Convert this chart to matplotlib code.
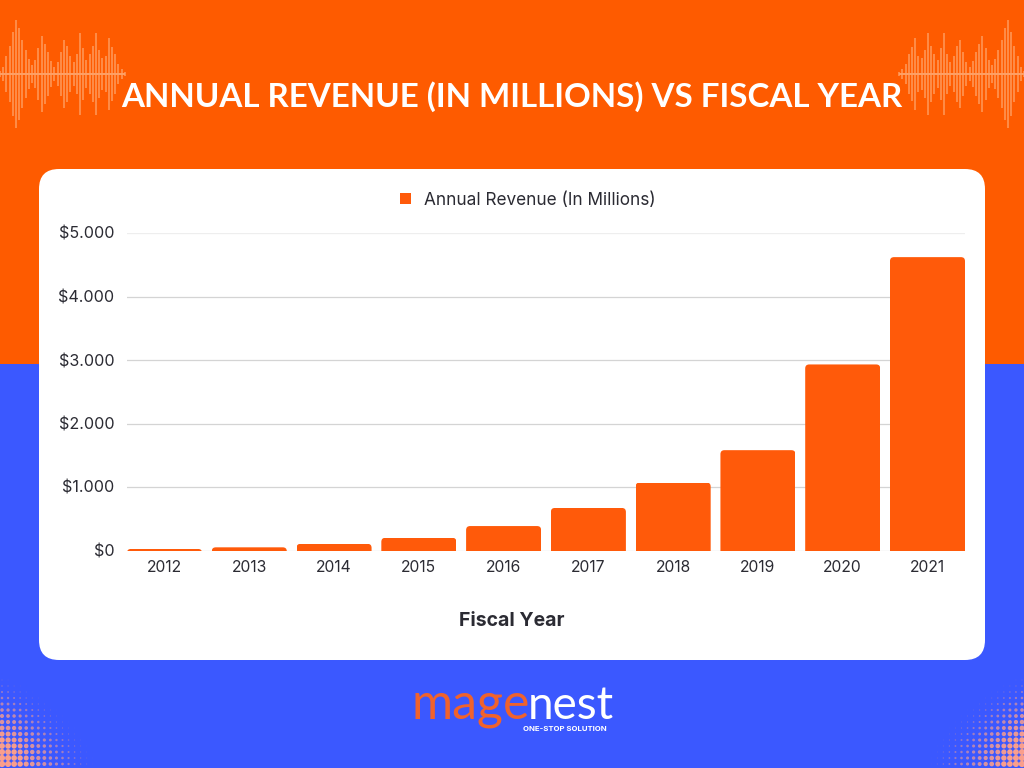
import numpy as np
import matplotlib
matplotlib.use("Agg")
import matplotlib.pyplot as plt
from matplotlib.patches import FancyBboxPatch, Rectangle
from matplotlib.transforms import IdentityTransform

years = ["2012","2013","2014","2015","2016","2017","2018","2019","2020","2021"]
revenue = [25, 50, 105, 200, 385, 670, 1070, 1580, 2930, 4620]
y_ticks = [0, 1000, 2000, 3000, 4000, 5000]
y_labels = ["$0", "$1.000", "$2.000", "$3.000", "$4.000", "$5.000"]
title = "ANNUAL REVENUE (IN MILLIONS) VS FISCAL YEAR"
series_name = "Annual Revenue (In Millions)"
x_title = "Fiscal Year"
# decorative waveform half-heights (px), left to right
wave = [3,7,18,28,42,54,46,34,24,15,9,14,26,38,30,22,13,7,12,22,34,28,18,12,
        20,41,26,14,20,28,41,24,16,18,36,27,20,10,5,2]

ORANGE = "#FE5B00"
BLUE = "#3B58FF"
BAR = "#FF5A0A"
TEXT = "#2B2B33"
W, H = 1024, 768
plt.rcParams["font.family"] = ["Inter", "DejaVu Sans"]

fig = plt.figure(figsize=(W/100, H/100), dpi=100)
bg = fig.add_axes([0, 0, 1, 1])
bg.set_xlim(0, W); bg.set_ylim(H, 0); bg.axis("off")
bg.add_patch(Rectangle((0, 0), W, 364, fc=ORANGE, ec="none"))
bg.add_patch(Rectangle((0, 364), W, H-364, fc=BLUE, ec="none"))

# waveforms
xs = np.arange(len(wave)) * 3.2
for mirror in (False, True):
    px = W - xs if mirror else xs
    bg.vlines(px, 74 - np.array(wave), 74 + np.array(wave), color="#FF9A5C", lw=1.1)
    bg.hlines(74, px.min(), px.max(), color="#FFA066", lw=1.4)

# halftone corners
gx, gy = np.meshgrid(np.arange(2, 100, 6.05), np.arange(674, 768, 6.0))
d = np.clip(1 - (gx/100)**1.2 - ((766-gy)/95)**1.6, 0, 1)
cols = np.zeros(gx.shape + (4,))
cols[..., :3] = np.array([0.98, 0.62, 0.55])
cols[..., 3] = np.clip(0.15 + d*1.0, 0, 1)
for mirror in (False, True):
    bg.scatter(W - gx.ravel() if mirror else gx.ravel(), gy.ravel(), s=(d.ravel()*5.5)**2*0.7,
               c=cols.reshape(-1, 4), linewidths=0)

# card
bg.add_patch(FancyBboxPatch((39, 169), 946, 491, boxstyle="round,pad=0,rounding_size=20",
                            fc="white", ec="none"))
bg.text(512, 107, title, color="white", fontsize=23.9, fontweight="bold", ha="center",
        va="baseline", family="Lato")

# logo
bg.text(471, 719, "mage", color="#F0622C", fontsize=36, ha="center", va="baseline", family="Lato")
bg.text(571, 719, "nest", color="white", fontsize=33, ha="center", va="baseline", family="Lato")
bg.text(565, 729, "ONE-STOP SOLUTION", color="white", fontsize=5.6, fontweight="bold",
        ha="center", va="center")

# chart
x0, x1, ytop, ybot = 127.0, 965.0, 233.0, 550.5
ax = fig.add_axes([x0/W, 1-ybot/H, (x1-x0)/W, (ybot-ytop)/H])
ax.patch.set_alpha(0)
pos = np.arange(len(years))
bars = ax.bar(pos, revenue, width=0.885, color=BAR, label=series_name, zorder=3)
ax.set_xlim(-0.4425, len(years)-1+0.4425)
ax.set_ylim(0, 5000)
ax.set_xticks(pos, years)
ax.set_yticks(y_ticks, y_labels)
ax.tick_params(length=0, labelcolor=TEXT)
ax.tick_params(axis="x", pad=7, labelsize=11.3)
ax.tick_params(axis="y", pad=9, labelsize=11.6)
ax.set_xlabel(x_title, fontsize=14, fontweight="bold", color=TEXT)
ax.xaxis.set_label_coords(0.4594, -0.195)
for s in ax.spines.values():
    s.set_visible(False)
ax.grid(axis="y", color="#D4D4D4", lw=0.9, zorder=0)
ax.get_ygridlines()[-1].set_color("#EEEEEE")
ax.set_axisbelow(True)

fig.canvas.draw()
for b in bars:
    (ax0, ay0), (ax1, ay1) = ax.transData.transform([(b.get_x(), 0), (b.get_x()+b.get_width(), b.get_height())])
    clip = FancyBboxPatch((ax0, ay0-8), ax1-ax0, ay1-ay0+8, boxstyle="round,pad=0,rounding_size=4",
                          transform=IdentityTransform())
    b.set_clip_path(clip)

leg = ax.legend(loc="lower center", bbox_to_anchor=(0.478, 1.03), frameon=False, fontsize=12.4,
                labelcolor=TEXT, handlelength=0.64, handleheight=0.64, handletextpad=0.75,
                borderaxespad=0.45)
fig.savefig("out.png", dpi=100)
